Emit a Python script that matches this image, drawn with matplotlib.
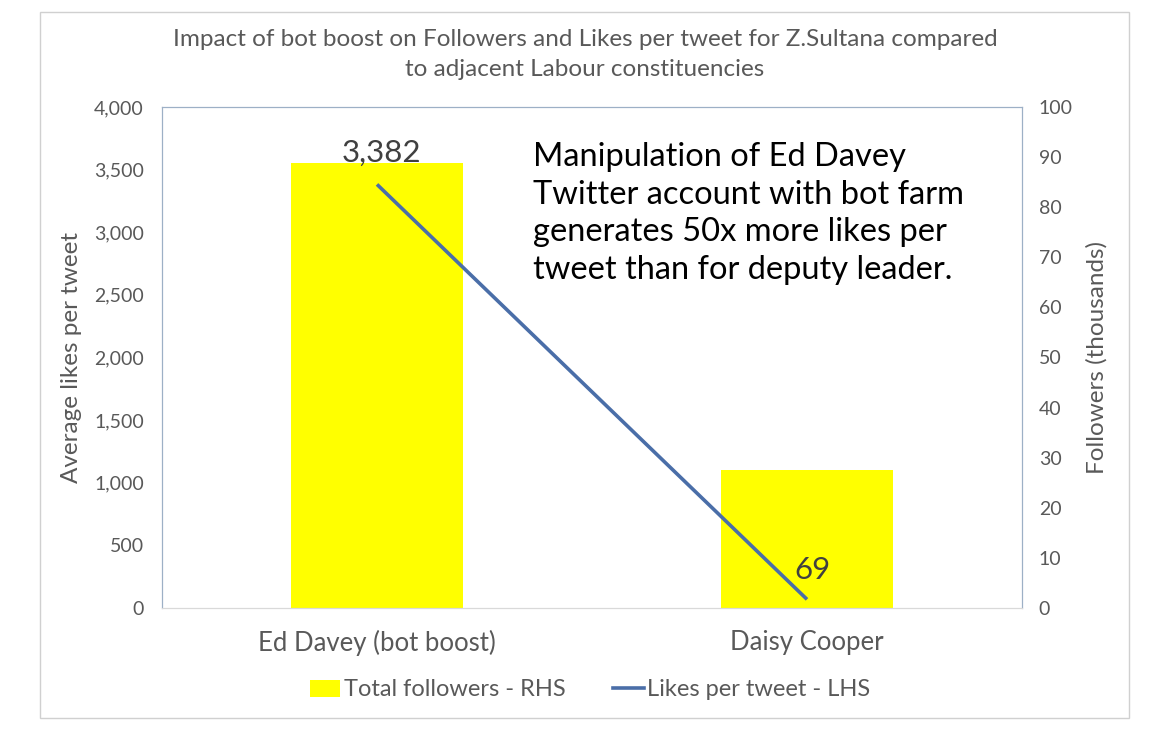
import matplotlib
matplotlib.use("Agg")
import matplotlib.pyplot as plt
from matplotlib.patches import Rectangle, Patch
from matplotlib.lines import Line2D
from matplotlib.ticker import FuncFormatter

categories = ["Ed Davey (bot boost)", "Daisy Cooper"]
followers_k = [88.8, 27.6]
likes_per_tweet = [3382, 69]
left_ticks = [0, 500, 1000, 1500, 2000, 2500, 3000, 3500, 4000]
right_ticks = [0, 10, 20, 30, 40, 50, 60, 70, 80, 90, 100]

plt.rcParams['font.family'] = ['Lato', 'DejaVu Sans']

fig = plt.figure(figsize=(11.7, 7.3), dpi=100)
fig.add_artist(Rectangle((40/1170, 12/730), (1129-40)/1170, (718-12)/730,
                         transform=fig.transFigure, fill=False, edgecolor='#D0D0D0', lw=1))

ax = fig.add_axes([162/1170, 1-608/730, (1022-162)/1170, (608-107)/730])
ax2 = ax.twinx()

x = list(range(len(categories)))
ax2.bar(x, followers_k, width=0.4, color='#FFFF00', zorder=1)
ax2.set_ylim(0, 100)
ax2.set_yticks(right_ticks)

ax.set_zorder(ax2.get_zorder() + 1)
ax.patch.set_visible(False)
ax.plot(x, likes_per_tweet, color='#4A6EA8', lw=2.6, solid_capstyle='butt')
ax.set_ylim(0, 4000)
ax.set_xlim(-0.5, 1.5)
ax.set_yticks(left_ticks)
ax.yaxis.set_major_formatter(FuncFormatter(lambda v, p: f"{int(v):,}"))
ax.set_xticks(x)
ax.set_xticklabels(categories)

ax.annotate("3,382", (0, likes_per_tweet[0]), xytext=(3, 13), textcoords='offset points',
            ha='center', va='bottom', fontsize=22.5, color='#404040')
ax.annotate("69", (1, likes_per_tweet[1]), xytext=(4, 11), textcoords='offset points',
            ha='center', va='bottom', fontsize=22.5, color='#404040')

for a in (ax, ax2):
    a.tick_params(length=0, labelsize=14, colors='#595959')
    for s in ('top', 'left', 'right'):
        a.spines[s].set_color('#9DB0C6')
    a.spines['bottom'].set_color('#D9D9D9')
ax.tick_params(axis='x', pad=16, labelsize=18.5)
ax.tick_params(axis='y', pad=13)
ax2.tick_params(axis='y', pad=12)

ax.set_ylabel("Average likes per tweet", fontsize=17.5, color='#595959', labelpad=9)
ax2.set_ylabel("Followers (thousands)", fontsize=17.5, color='#595959', labelpad=10)

fig.text(585/1170, 1-40/730, "Impact of bot boost on Followers and Likes per tweet for Z.Sultana compared",
         ha='center', va='center', fontsize=17.5, color='#595959')
fig.text(585/1170, 1-70/730, "to adjacent Labour constituencies",
         ha='center', va='center', fontsize=17.5, color='#595959')

fig.text(533/1170, 1-142/730,
         "Manipulation of Ed Davey\nTwitter account with bot farm\ngenerates 50x more likes per\ntweet than for deputy leader.",
         ha='left', va='top', fontsize=23.5, color='#000000', linespacing=1.32)

handles = [Patch(facecolor='#FFFF00', edgecolor='none', label='Total followers - RHS'),
           Line2D([0], [0], color='#4A6EA8', lw=2.6, label='Likes per tweet - LHS')]
leg = fig.legend(handles=handles, loc='center', bbox_to_anchor=(590/1170, 1-690/730), ncol=2,
                 frameon=False, fontsize=17, handlelength=1.3, handletextpad=0.15, columnspacing=2.0)
for t in leg.get_texts():
    t.set_color('#595959')

fig.savefig("out.png", dpi=100)
